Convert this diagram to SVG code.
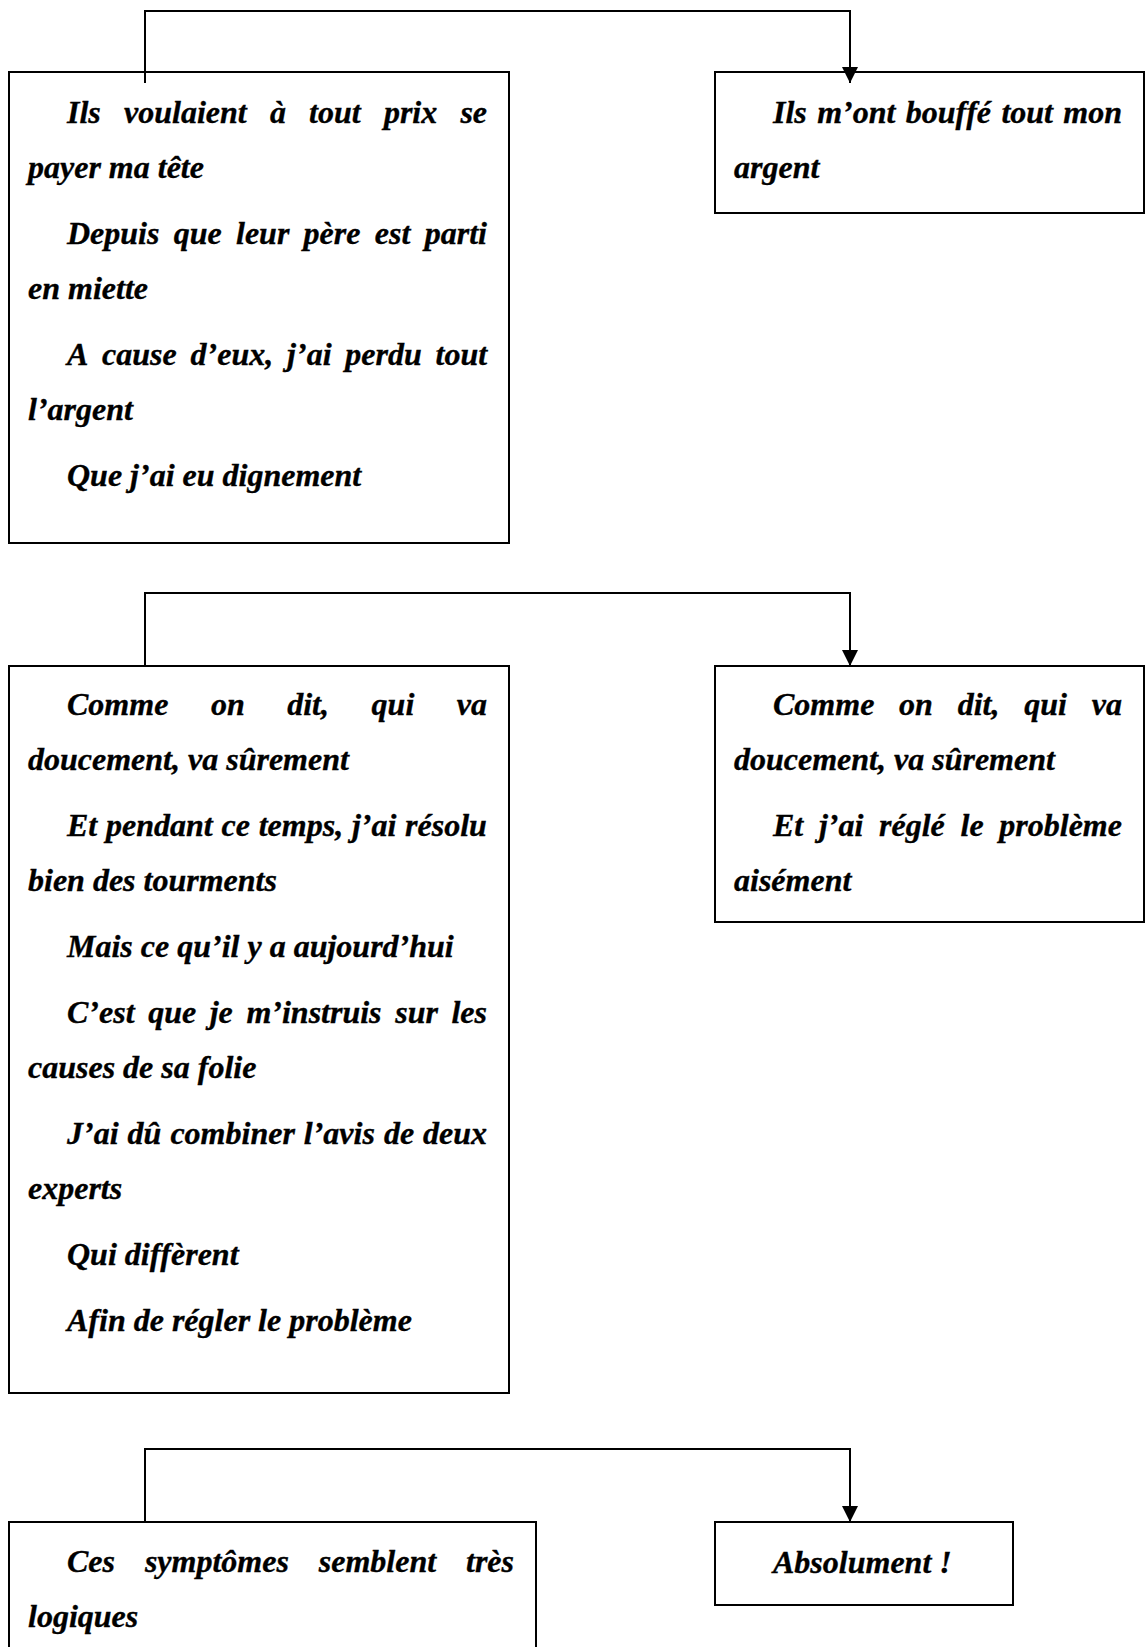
<svg xmlns="http://www.w3.org/2000/svg" width="1148" height="1647" viewBox="0 0 1148 1647">
  <style>
    .box { fill: none; stroke: #000; stroke-width: 2; }
    .link { fill: none; stroke: #000; stroke-width: 2; }
    .t { font-family: "Liberation Serif", "Times New Roman", serif; font-size: 32px; font-weight: bold; font-style: italic; fill: #000; stroke: #000; stroke-width: 0.35; font-kerning: none; }
  </style>
  <defs>
    <marker id="arrow" viewBox="0 0 16 16" refX="16" refY="8" markerWidth="16" markerHeight="16" markerUnits="userSpaceOnUse" orient="auto">
      <path d="M0,0 L16,8 L0,16 Z" fill="#000"/>
    </marker>
  </defs>
  <rect x="0" y="0" width="1148" height="1647" fill="#fff"/>

  <!-- row 1 -->
  <g id="node-payer-tete">
    <rect class="box" x="9" y="72" width="500" height="471"/>
    <text class="t" y="123"><tspan x="67">Ils</tspan><tspan x="124">voulaient</tspan><tspan x="269.9">à</tspan><tspan x="309.1">tout</tspan><tspan x="383.9">prix</tspan><tspan x="460.4">se</tspan></text>
    <text class="t" x="28" y="178">payer ma tête</text>
    <text class="t" y="244"><tspan x="67">Depuis</tspan><tspan x="173.7">que</tspan><tspan x="236">leur</tspan><tspan x="303.6">père</tspan><tspan x="374.8">est</tspan><tspan x="424.7">parti</tspan></text>
    <text class="t" x="28" y="299">en miette</text>
    <text class="t" y="365"><tspan x="67">A</tspan><tspan x="102.1">cause</tspan><tspan x="190.6">d’eux,</tspan><tspan x="287.1">j’ai</tspan><tspan x="345.3">perdu</tspan><tspan x="435.5">tout</tspan></text>
    <text class="t" x="28" y="420">l’argent</text>
    <text class="t" x="67" y="486">Que j’ai eu dignement</text>
  </g>
  <g id="node-argent">
    <rect class="box" x="715" y="72" width="429" height="141"/>
    <text class="t" y="123"><tspan x="773">Ils</tspan><tspan x="817.2">m’ont</tspan><tspan x="905.7">bouffé</tspan><tspan x="1001.4">tout</tspan><tspan x="1063.3">mon</tspan></text>
    <text class="t" x="734" y="178">argent</text>
  </g>

  <!-- row 2 -->
  <g id="node-experts">
    <rect class="box" x="9" y="666" width="500" height="727"/>
    <text class="t" y="715"><tspan x="67">Comme</tspan><tspan x="210.9">on</tspan><tspan x="287.2">dit,</tspan><tspan x="371.6">qui</tspan><tspan x="456.8">va</tspan></text>
    <text class="t" x="28" y="770">doucement, va sûrement</text>
    <text class="t" y="836"><tspan x="67">Et</tspan><tspan x="106">pendant</tspan><tspan x="221.5">ce</tspan><tspan x="258.7">temps,</tspan><tspan x="351.9">j’ai</tspan><tspan x="405.1">résolu</tspan></text>
    <text class="t" x="28" y="891">bien des tourments</text>
    <text class="t" x="67" y="957">Mais ce qu’il y a aujourd’hui</text>
    <text class="t" y="1023"><tspan x="67">C’est</tspan><tspan x="148.2">que</tspan><tspan x="209.7">je</tspan><tspan x="246.4">m’instruis</tspan><tspan x="395.2">sur</tspan><tspan x="451.4">les</tspan></text>
    <text class="t" x="28" y="1078">causes de sa folie</text>
    <text class="t" y="1144"><tspan x="67">J’ai</tspan><tspan x="127.6">dû</tspan><tspan x="170.4">combiner</tspan><tspan x="303.8">l’avis</tspan><tspan x="383.9">de</tspan><tspan x="423.1">deux</tspan></text>
    <text class="t" x="28" y="1199">experts</text>
    <text class="t" x="67" y="1265">Qui diffèrent</text>
    <text class="t" x="67" y="1331">Afin de régler le problème</text>
  </g>
  <g id="node-aisement">
    <rect class="box" x="715" y="666" width="429" height="256"/>
    <text class="t" y="715"><tspan x="773">Comme</tspan><tspan x="899.1">on</tspan><tspan x="957.7">dit,</tspan><tspan x="1024.3">qui</tspan><tspan x="1091.8">va</tspan></text>
    <text class="t" x="734" y="770">doucement, va sûrement</text>
    <text class="t" y="836"><tspan x="773">Et</tspan><tspan x="818.9">j’ai</tspan><tspan x="879">réglé</tspan><tspan x="960.5">le</tspan><tspan x="999.3">problème</tspan></text>
    <text class="t" x="734" y="891">aisément</text>
  </g>

  <!-- row 3 -->
  <g id="node-logiques">
    <rect class="box" x="9" y="1522" width="527" height="200"/>
    <text class="t" y="1572"><tspan x="67">Ces</tspan><tspan x="144.9">symptômes</tspan><tspan x="318.8">semblent</tspan><tspan x="466">très</tspan></text>
    <text class="t" x="28" y="1627">logiques</text>
  </g>
  <g id="node-absolument">
    <rect class="box" x="715" y="1522" width="298" height="83"/>
    <text class="t" x="773" y="1573">Absolument !</text>
  </g>

  <!-- elbow connectors from each left box to its right-hand reply -->
  <g id="connectors">
    <path class="link" d="M145,83 V11 H850 V83" marker-end="url(#arrow)"/>
    <path class="link" d="M145,666 V593 H850 V666" marker-end="url(#arrow)"/>
    <path class="link" d="M145,1522 V1449 H850 V1522" marker-end="url(#arrow)"/>
  </g>
</svg>
